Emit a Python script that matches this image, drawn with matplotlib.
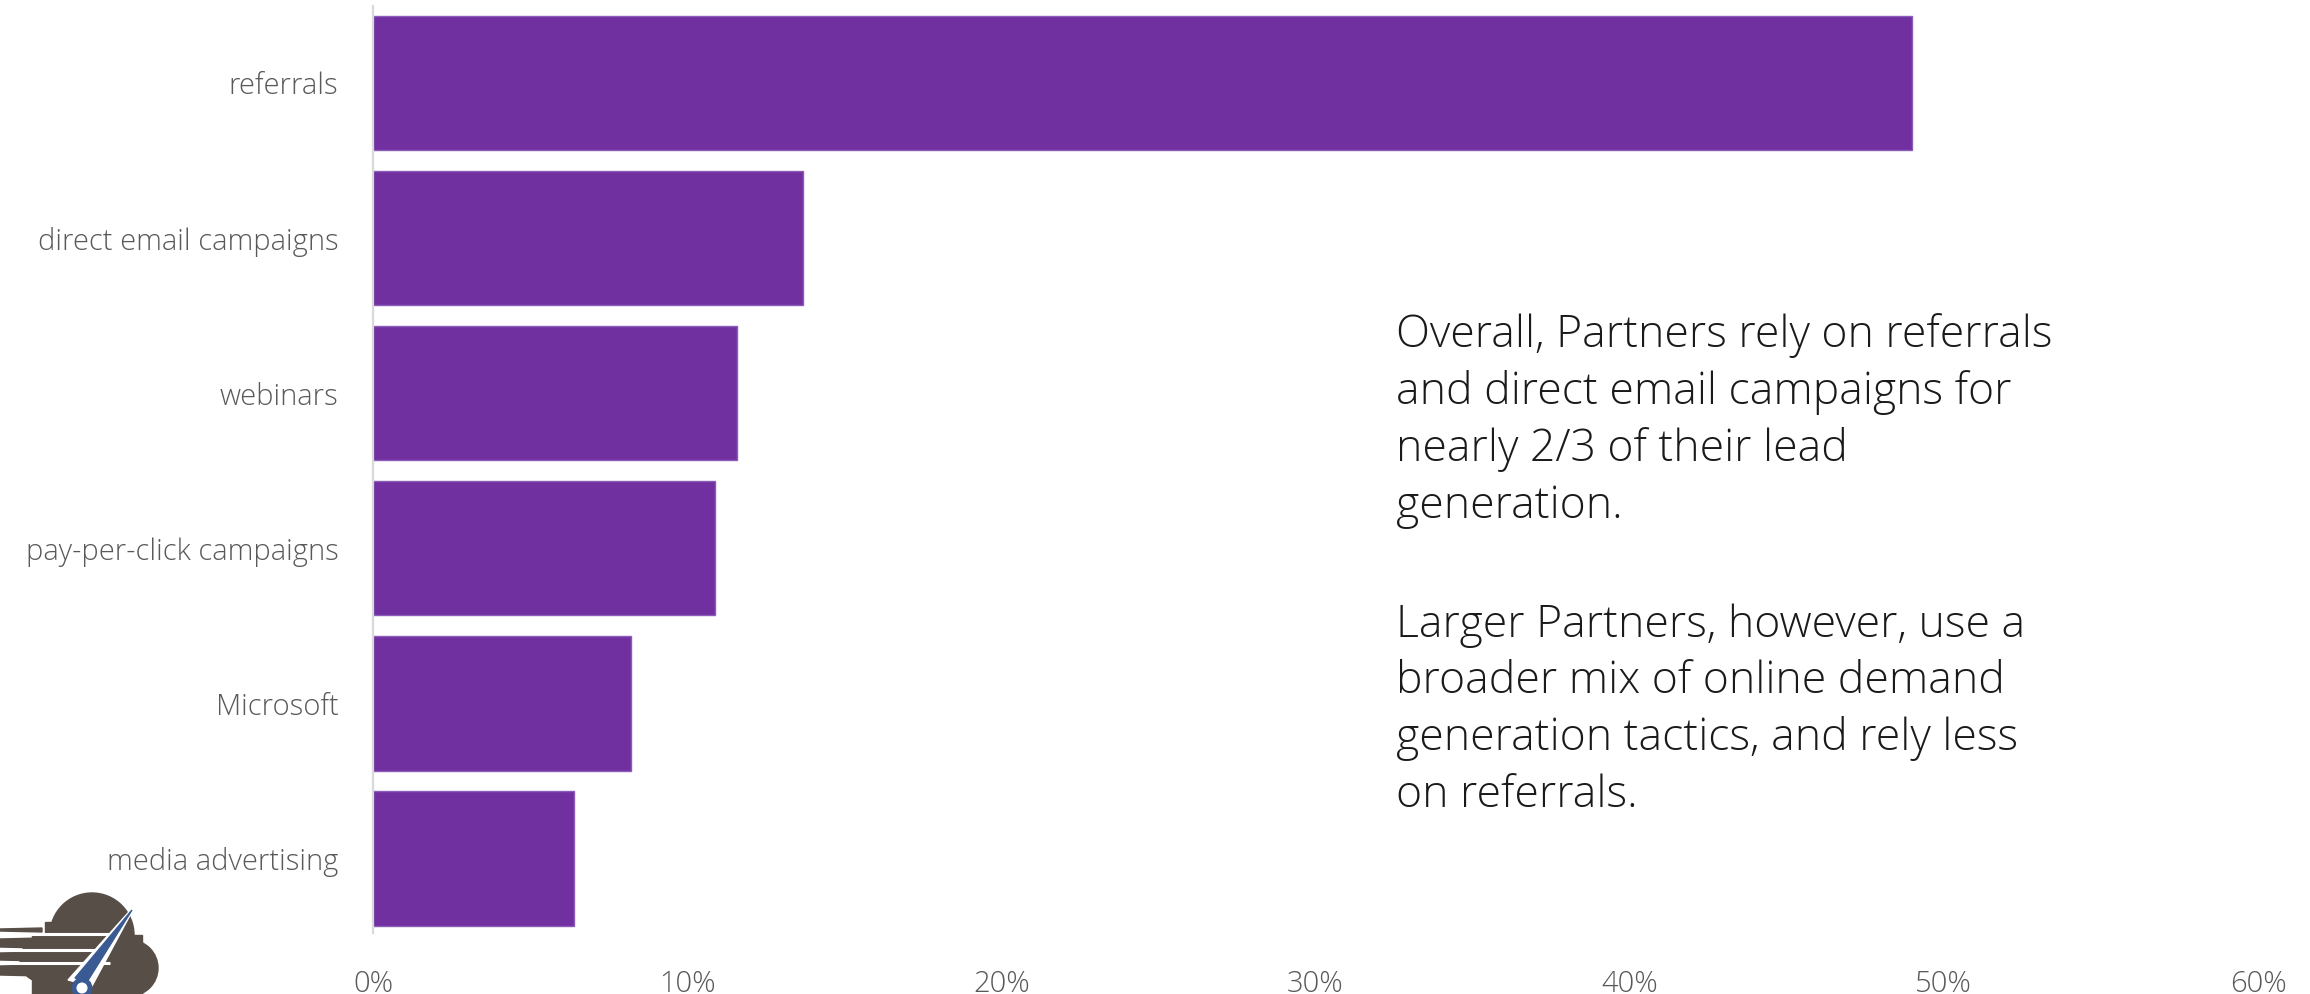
import matplotlib as mpl
import matplotlib.pyplot as plt
from matplotlib.patches import Circle, Rectangle, Polygon

# lead generation sources, share of leads
categories = ['referrals', 'direct email campaigns', 'webinars',
              'pay-per-click campaigns', 'Microsoft', 'media advertising']
shares = [0.49, 0.137, 0.116, 0.109, 0.082, 0.064]
tick_values = [0, 0.1, 0.2, 0.3, 0.4, 0.5, 0.6]
tick_labels = ['0%', '10%', '20%', '30%', '40%', '50%', '60%']

note_1 = ('Overall, Partners rely on referrals\nand direct email campaigns for\n'
          'nearly 2/3 of their lead\ngeneration.')
note_2 = ('Larger Partners, however, use a\nbroader mix of online demand\n'
          'generation tactics, and rely less\non referrals.')

mpl.rcParams['font.family'] = ['Open Sans', 'Lato', 'DejaVu Sans']
mpl.rcParams['font.weight'] = 'light'

W, H = 2310, 994
fig = plt.figure(figsize=(W / 100, H / 100), dpi=100)

# bar chart area
ax = fig.add_axes([373 / W, 1 - 933 / H, (2258 - 373) / W, (933 - 6) / H])
ypos = list(range(len(categories)))
ax.barh(ypos, shares, height=0.865, color='#7030A0', edgecolor='#8b5cb8', linewidth=1)
ax.set_xlim(0, 0.6)
ax.set_ylim(5.48, -0.497)
ax.set_yticks(ypos)
ax.set_yticklabels(categories, fontsize=21, color='#595959')
ax.set_xticks(tick_values)
ax.set_xticklabels(tick_labels, fontsize=21, color='#595959')
ax.tick_params(axis='both', length=0)
ax.tick_params(axis='y', pad=25)
ax.tick_params(axis='x', pad=26)
for s in ['top', 'right', 'bottom']:
    ax.spines[s].set_visible(False)
ax.spines['left'].set_color('#d9d9d9')
ax.spines['left'].set_linewidth(1.6)

# commentary
fig.text(1396 / W, 1 - 313 / H, note_1, fontsize=32, color='#1a1a1a',
         ha='left', va='top', linespacing=1.36)
fig.text(1396 / W, 1 - 603 / H, note_2, fontsize=32, color='#1a1a1a',
         ha='left', va='top', linespacing=1.36)

# logo: cloud with speed lines and gauge needle (pixel coords)
lg = fig.add_axes([0, 0, 1, 1], zorder=5)
lg.set_xlim(0, W)
lg.set_ylim(H, 0)
lg.axis('off')
lg.patch.set_alpha(0)
cloud = '#574e48'
needle = '#3a5a93'
lg.add_patch(Circle((92, 935), 42, color=cloud))
lg.add_patch(Circle((130, 968), 28, color=cloud))
lg.add_patch(Circle((42, 960), 22, color=cloud))
lg.add_patch(Rectangle((32, 935), 110, 60, color=cloud))
lg.add_patch(Rectangle((45, 922), 40, 15, color=cloud))
# speed lines trailing to the left
for y0, y1 in [(928, 932), (938, 948), (952, 961), (965, 976)]:
    lg.add_patch(Polygon([(0, y0 + 1), (42, y0), (42, y1), (0, y1 - 1)], color=cloud))
for y in [934, 950, 963]:
    lg.plot([0, 110], [y, y], color='white', lw=2.2, solid_capstyle='butt')
# needle with white outline and hub ring
lg.add_patch(Polygon([(136, 904), (92, 986), (68, 980)], color='white', zorder=3))
lg.add_patch(Polygon([(132, 910), (87, 982), (75, 978)], color=needle, zorder=4))
lg.add_patch(Circle((82, 988), 8, facecolor='white', edgecolor=needle, lw=3.5, zorder=5))

fig.savefig('out.png', dpi=100)
